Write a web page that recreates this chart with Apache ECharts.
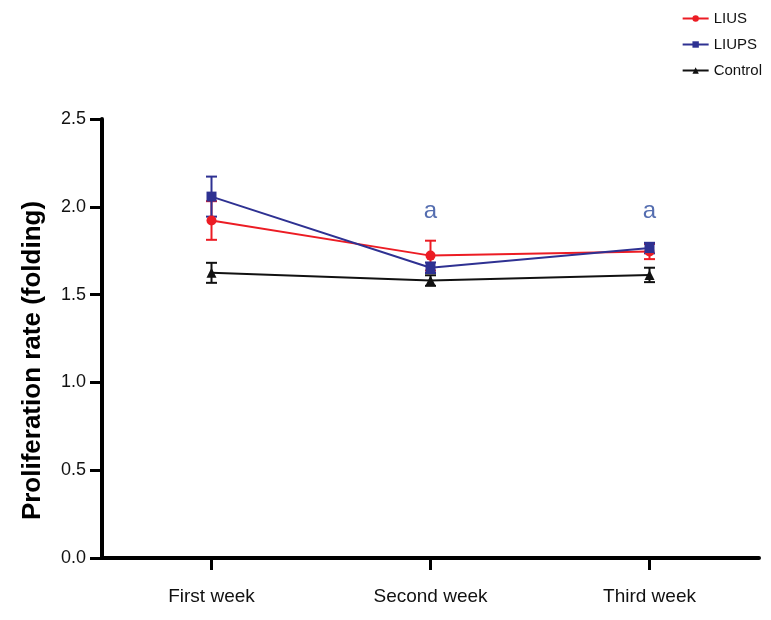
<!DOCTYPE html>
<html>
<head>
<meta charset="utf-8">
<script src="https://cdn.jsdelivr.net/npm/echarts@6/dist/echarts.min.js"></script>
<style>html,body{margin:0;padding:0;background:#fff;}#c{width:771px;height:620px;}</style>
</head>
<body>
<div id="c"></div>
<script>
var categories = ['First week', 'Second week', 'Third week'];
var yTicks = [0, 0.5, 1.0, 1.5, 2.0, 2.5];
var liusMean = [1.922, 1.722, 1.745];
var liusErr = [0.11, 0.085, 0.043];
var liupsMean = [2.058, 1.653, 1.765];
var liupsErr = [0.114, 0.03, 0.03];
var ctrlMean = [1.624, 1.58, 1.612];
var ctrlErr = [0.057, 0.03, 0.041];
var sigLabels = [null, 'a', 'a'];
var sigY = 1.975;

var RED = '#ec1c24', BLUE = '#2e3192', BLACK = '#111111', ABLUE = '#2b4a9c';
var FONT = 'Liberation Sans, Arial, sans-serif';

function errData(mean, err) { return mean.map(function (v, i) { return [i, v - err[i], v + err[i]]; }); }
function errSeries(mean, err, color) {
  return {
    type: 'custom', silent: true, z: 3,
    data: errData(mean, err),
    renderItem: function (params, api) {
      var x = api.value(0);
      var lo = api.coord([x, api.value(1)]);
      var hi = api.coord([x, api.value(2)]);
      var w = 5.5;
      var st = { stroke: color, lineWidth: 2 };
      return {
        type: 'group', children: [
          { type: 'line', shape: { x1: lo[0], y1: lo[1], x2: hi[0], y2: hi[1] }, style: st },
          { type: 'line', shape: { x1: lo[0] - w, y1: lo[1], x2: lo[0] + w, y2: lo[1] }, style: st },
          { type: 'line', shape: { x1: hi[0] - w, y1: hi[1], x2: hi[0] + w, y2: hi[1] }, style: st }
        ]
      };
    }
  };
}
function lineSeries(name, mean, color, symbol, size) {
  return {
    name: name, type: 'line', data: mean, symbol: symbol, symbolSize: size,
    z: 4, itemStyle: { color: color }, lineStyle: { color: color, width: 2 }
  };
}

var chart = echarts.init(document.getElementById('c'), null, { renderer: 'canvas' });
chart.setOption({
  animation: false,
  backgroundColor: '#fff',
  grid: { left: 102, right: 12, top: 119, bottom: 62, containLabel: false },
  legend: {
    orient: 'vertical', right: 4, top: 6, itemGap: 11, itemWidth: 26, itemHeight: 8,
    textStyle: { fontFamily: FONT, fontSize: 15, color: '#111' },
    data: ['LIUS', 'LIUPS', 'Control']
  },
  xAxis: {
    type: 'category', data: categories, boundaryGap: true,
    axisLine: { show: true, lineStyle: { color: '#000', width: 4 } },
    axisTick: { show: true, alignWithLabel: true, length: 12, lineStyle: { color: '#000', width: 3 } },
    axisLabel: { margin: 29, fontFamily: FONT, fontSize: 19, color: '#111' },
    splitLine: { show: false }
  },
  yAxis: {
    type: 'value', min: 0, max: 2.5, interval: 0.5,
    name: 'Proliferation rate (folding)', nameLocation: 'middle', nameGap: 56,
    nameTextStyle: { fontFamily: FONT, fontSize: 26, fontWeight: 'bold', color: '#000', padding: [0, 44, 0, 0] },
    axisLine: { show: true, lineStyle: { color: '#000', width: 4 } },
    axisTick: { show: true, length: 12, lineStyle: { color: '#000', width: 3 } },
    axisLabel: { margin: 16, fontFamily: FONT, fontSize: 18, color: '#111',
      formatter: function (v) { return v.toFixed(1); } },
    splitLine: { show: false }
  },
  series: [
    errSeries(ctrlMean, ctrlErr, BLACK),
    errSeries(liusMean, liusErr, RED),
    errSeries(liupsMean, liupsErr, BLUE),
    lineSeries('LIUS', liusMean, RED, 'circle', 10),
    lineSeries('LIUPS', liupsMean, BLUE, 'rect', 10),
    lineSeries('Control', ctrlMean, BLACK, 'triangle', 10),
    {
      type: 'scatter', silent: true, symbolSize: 0,
      data: sigLabels.map(function (s, i) { return s ? { value: [i, sigY], name: s } : null; }).filter(Boolean),
      label: { show: true, position: 'inside', formatter: '{b}', fontFamily: FONT, fontSize: 24, color: ABLUE }
    }
  ]
});
</script>
</body>
</html>
